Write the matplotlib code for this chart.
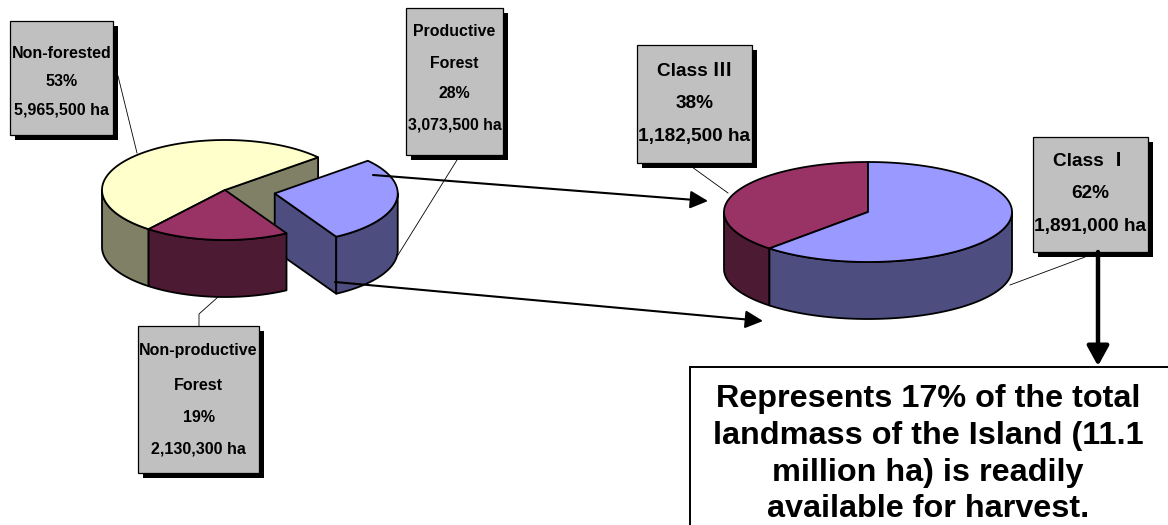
import numpy as np
import matplotlib
matplotlib.use("Agg")
import matplotlib.pyplot as plt
from matplotlib.patches import Polygon, Rectangle
from matplotlib.font_manager import FontProperties


# land use of the island (left pie)
land_names = ["Non-forested", "Non-productive\nForest", "Productive\nForest"]
land_pct = [53, 19, 28]
land_ha = [5965500, 2130300, 3073500]

# productive forest split (right pie)
class_names = ["Class \u2162", "Class \u2160"]
class_pct = [38, 62]
class_ha = [1182500, 1891000]

note_lines = [
    "Represents 17% of the total",
    "landmass of the Island (11.1",
    "million ha) is readily",
    "available for harvest.",
]


label_fp = FontProperties(
    family=["Liberation Sans", "Noto Sans CJK JP", "DejaVu Sans"],
    weight="bold"
)

note_fp = FontProperties(family=["Liberation Sans", "DejaVu Sans"], weight="bold", size=23.3)


def draw_pie3d(ax, cx, cy, rx, ry, depth, values, start, tops, sides, explode=None):

    values = np.asarray(values, dtype=float)
    n = len(values)
    if explode is None:
        explode = np.zeros(n)

    bounds = start + np.concatenate([[0], np.cumsum(values) / values.sum() * 360])

    walls = []
    top_polys = []

    for i in range(n):
        a0, a1 = bounds[i], bounds[i + 1]
        mid = np.radians((a0 + a1) / 2)
        ox = cx + explode[i] * rx * np.cos(mid)
        oy = cy - explode[i] * ry * np.sin(mid)

        def ring(a_from, a_to):
            t = np.radians(np.linspace(a_from, a_to, 200))
            return np.column_stack([ox + rx * np.cos(t), oy - ry * np.sin(t)])

        top_polys.append((np.vstack([[ox, oy], ring(a0, a1)]), tops[i]))

        # outer wall, only the half that faces the viewer
        for k in (-1, 0, 1):
            lo = max(a0, 180 + 360 * k)
            hi = min(a1, 360 + 360 * k)
            if hi > lo:
                up = ring(lo, hi)
                poly = np.vstack([up, up[::-1] + [0, depth]])
                walls.append((poly[:, 1].mean(), poly, sides[i]))

        # cut faces, only where a slice is pulled out
        for a, nb, vis in (
            (a0, explode[i - 1], np.cos(np.radians(a0)) > 0),
            (a1, explode[(i + 1) % n], np.cos(np.radians(a1)) < 0),
        ):
            if vis and nb != explode[i]:
                ex = ox + rx * np.cos(np.radians(a))
                ey = oy - ry * np.sin(np.radians(a))
                poly = np.array([[ox, oy], [ex, ey], [ex, ey + depth], [ox, oy + depth]])
                walls.append((poly[:, 1].mean(), poly, sides[i]))

    for key, poly, c in sorted(walls, key=lambda w: w[0]):
        ax.add_patch(Polygon(poly, closed=True, fc=c, ec="black", lw=1.3, joinstyle="round"))

    for poly, c in top_polys:
        ax.add_patch(Polygon(poly, closed=True, fc=c, ec="black", lw=1.3, joinstyle="round"))


def fitted(lines, target):

    # biggest font size where every line fits the wanted width in pixels
    size = 16
    for line in lines:
        fp = label_fp.copy()
        fp.set_size(20)
        t = ax.text(0, 0, line, fontproperties=fp)
        w = t.get_window_extent(renderer=fig.canvas.get_renderer()).width
        t.remove()
        size = min(size, 20 * target / w)

    fp = label_fp.copy()
    fp.set_size(size)

    return fp


def label_box(ax, x0, y0, x1, y1, lines, ys):

    ax.add_patch(Rectangle((x0 + 5, y0 + 5), x1 - x0, y1 - y0, fc="black", ec="none"))
    ax.add_patch(Rectangle((x0, y0), x1 - x0, y1 - y0, fc="#C0C0C0", ec="black", lw=0.9))

    fp = fitted(lines, x1 - x0 - 3)

    for line, y in zip(lines, ys):
        ax.text(
            (x0 + x1) / 2, y, line,
            ha="center", va="center",
            fontproperties=fp, color="black"
        )


def arrow(ax, start, end, lw, scale, hl, hw):

    ax.annotate(
        "", xy=end, xytext=start,
        arrowprops=dict(
            arrowstyle=f"-|>,head_length={hl},head_width={hw}",
            mutation_scale=scale, lw=lw, color="black",
            shrinkA=0, shrinkB=0
        )
    )


fig = plt.figure(figsize=(11.68, 5.25), dpi=100)
ax = fig.add_axes([0, 0, 1, 1])
ax.set_xlim(0, 1168)
ax.set_ylim(525, 0)
ax.axis("off")


land_tops = ["#FFFFCC", "#993366", "#9999FF"]
land_sides = ["#808066", "#4D1A33", "#4D4D80"]

draw_pie3d(
    ax, 225, 190, 123, 50, 57,
    land_pct, 40.8,
    land_tops, land_sides,
    explode=[0, 0, 0.41]
)

class_tops = ["#993366", "#9999FF"]
class_sides = ["#4D1A33", "#4D4D80"]

draw_pie3d(
    ax, 868, 212, 144, 50, 57,
    class_pct, 90,
    class_tops, class_sides
)


# leader lines
leaders = [
    ([118, 137], [76, 153]),
    ([457, 398], [160, 255]),
    ([199, 199, 218], [326, 314, 297]),
    ([692, 728], [167, 193]),
    ([1085, 1010], [257, 285]),
]

for xs, ys in leaders:
    ax.plot(xs, ys, color="black", lw=0.6)


# text boxes
label_box(
    ax, 10, 21, 113, 135,
    land_names[0].split("\n") + [f"{land_pct[0]}%", f"{land_ha[0]:,} ha"],
    [53, 82, 110]
)

label_box(
    ax, 406, 8, 503, 155,
    land_names[2].split("\n") + [f"{land_pct[2]}%", f"{land_ha[2]:,} ha"],
    [32, 63, 94, 125]
)

label_box(
    ax, 138, 326, 259, 473,
    land_names[1].split("\n") + [f"{land_pct[1]}%", f"{land_ha[1]:,} ha"],
    [350, 385, 418, 449]
)

label_box(
    ax, 637, 45, 752, 163,
    [class_names[0], f"{class_pct[0]}%", f"{class_ha[0]:,} ha"],
    [72, 104, 136]
)

label_box(
    ax, 1033, 137, 1148, 252,
    [class_names[1], f"{class_pct[1]}%", f"{class_ha[1]:,} ha"],
    [161, 194, 227]
)


# arrows between the pies
arrow(ax, (373, 175), (708, 201), 1.5, 18, 0.6, 0.3)
arrow(ax, (335, 282), (763, 321), 1.5, 18, 0.6, 0.3)
arrow(ax, (1098, 252), (1098, 366), 3.2, 20, 0.6, 0.33)


# note box at the bottom
ax.add_patch(Rectangle((690, 367), 600, 300, fc="white", ec="black", lw=1.4))

for line, y in zip(note_lines, [407, 444, 481, 517]):
    ax.text(
        928, y, line,
        ha="center", va="baseline",
        fontproperties=note_fp, color="black"
    )


plt.savefig("out.png", dpi=100)
plt.close()
